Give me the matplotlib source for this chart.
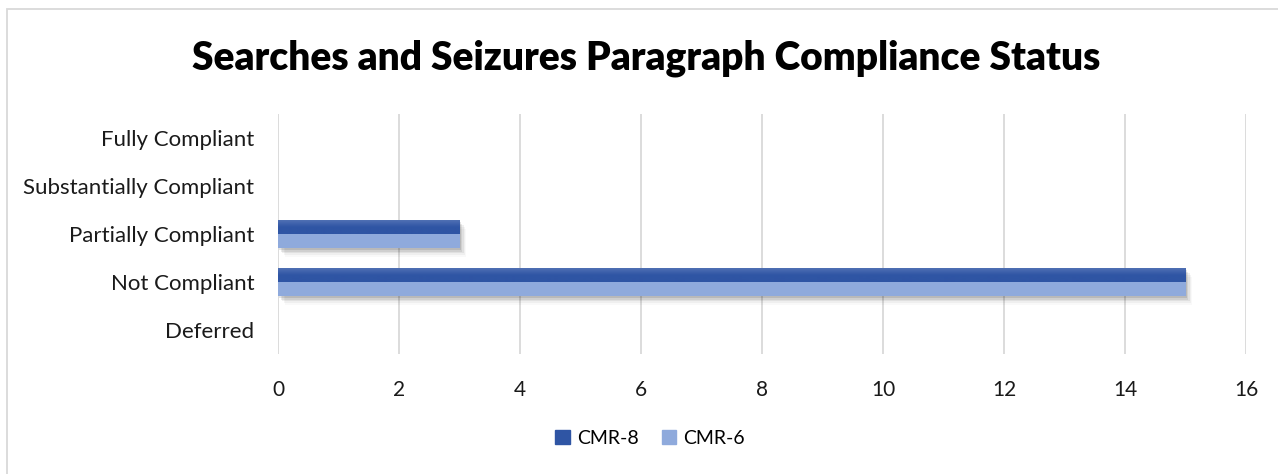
import numpy as np
import matplotlib
matplotlib.use("Agg")
import matplotlib.pyplot as plt
from matplotlib.patches import Rectangle
from matplotlib.colors import LinearSegmentedColormap
import matplotlib.patheffects as pe

categories = ["Fully Compliant", "Substantially Compliant", "Partially Compliant",
              "Not Compliant", "Deferred"]
cmr8 = [0, 0, 3, 15, 0]
cmr6 = [0, 0, 3, 15, 0]
series_names = ["CMR-8", "CMR-6"]
x_ticks = [0, 2, 4, 6, 8, 10, 12, 14, 16]

FONT = "Lato"
DARK = "#2F55A4"
DARK_TOP = "#5070B4"
LIGHT = "#8FAADC"

W, H = 1278, 474
fig = plt.figure(figsize=(W / 100, H / 100), dpi=100)

# outer chart frame
fig.patches.append(Rectangle((6.5 / W, -0.1), 1.2, (H - 9.5) / H + 0.1,
                             transform=fig.transFigure, fill=False,
                             edgecolor="#D9D9D9", linewidth=1.3))

ax = fig.add_axes([278 / W, (H - 354) / H, (1246 - 278) / W, 240 / H])

ypos = np.arange(len(categories))
bh = 0.29

shadow = [pe.SimplePatchShadow(offset=(d, -d * 1.3), shadow_rgbFace="#000000", alpha=a)
          for d, a in [(1.0, 0.10), (2.0, 0.08), (3.0, 0.06), (4.0, 0.04), (5.0, 0.025)]]
cmap = LinearSegmentedColormap.from_list("bar_grad", [DARK_TOP, DARK, DARK])

for i, (a, b) in enumerate(zip(cmr8, cmr6)):
    if a > 0:
        r = ax.barh(ypos[i] - bh / 2, a, height=bh, color=DARK, zorder=3,
                    path_effects=shadow + [pe.Normal()])[0]
        grad = np.linspace(0, 1, 64).reshape(-1, 1)
        im = ax.imshow(grad, cmap=cmap, aspect="auto", zorder=3.5,
                       extent=(0, a, ypos[i], ypos[i] - bh), interpolation="bilinear")
        im.set_clip_path(r)
    if b > 0:
        ax.barh(ypos[i] + bh / 2, b, height=bh, color=LIGHT, zorder=4,
                path_effects=shadow + [pe.Normal()])
ax.set_xlim(0, 16)
ax.set_ylim(4.5, -0.5)

ax.set_xticks(x_ticks)
ax.set_xticklabels([str(t) for t in x_ticks], fontfamily=FONT, fontsize=15, color="#1A1A1A")
ax.set_yticks(ypos)
ax.set_yticklabels(categories, fontfamily=FONT, fontsize=16, color="#1A1A1A")
ax.tick_params(axis="both", length=0)
ax.tick_params(axis="x", pad=19)
ax.tick_params(axis="y", pad=17)
ax.grid(axis="x", color="#D9D9D9", linewidth=1.3, zorder=0)
ax.set_axisbelow(True)
for s in ax.spines.values():
    s.set_visible(False)

fig.text(646 / W, 1 - 58 / H, "Searches and Seizures Paragraph Compliance Status",
         ha="center", va="center", fontfamily=FONT, fontweight="heavy", fontsize=28,
         color="#000000")

handles = [Rectangle((0, 0), 1, 1, color=DARK), Rectangle((0, 0), 1, 1, color=LIGHT)]
fig.legend(handles, series_names, loc="center", bbox_to_anchor=(650 / W, 1 - 438 / H),
           ncol=2, frameon=False, prop={"family": FONT, "size": 14},
           handlelength=0.75, handleheight=0.75, handletextpad=0.35, columnspacing=1.2)

fig.savefig("out.png", dpi=100)
